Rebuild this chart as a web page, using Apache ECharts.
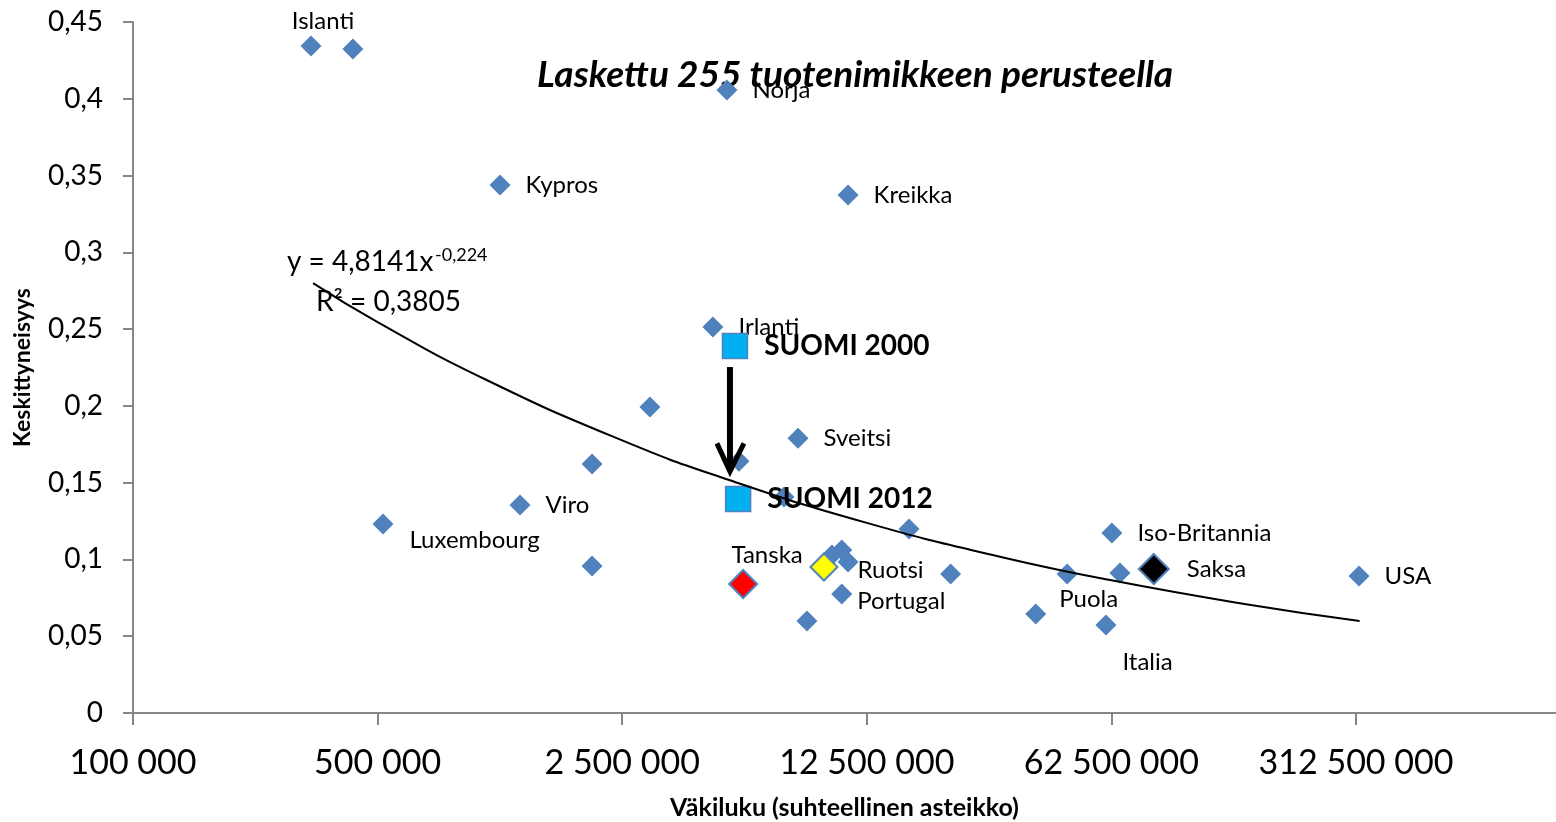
<!DOCTYPE html>
<html>
<head>
<meta charset="utf-8">
<title>Keskittyneisyys ja väkiluku</title>
<script src="https://cdn.jsdelivr.net/npm/echarts@6/dist/echarts.min.js"></script>
<style>
  html, body { margin: 0; padding: 0; background: #fff; }
  #chart { width: 1556px; height: 822px; }
</style>
</head>
<body>
<div id="chart"></div>
<script>
// maat ('' = nimeämätön piste), väkiluku ja keskittyneisyys
const countryNames = [
  'Islanti', '', 'Norja', 'Kypros', 'Kreikka', 'Irlanti', '', 'Sveitsi', '', '',
  'Viro', 'Luxembourg', '', '', 'Iso-Britannia', '', 'Tanska', '', '', '',
  'Ruotsi', 'Portugal', '', '', 'Puola', '', 'Italia', '', 'Saksa', 'USA'
]
const population = [
  322600, 425000, 4980000, 1119000, 11050000, 4540000, 3000000, 7950000, 2050000, 5390000,
  1276000, 518000, 7250000, 16500000, 62700000, 2050000, 5540000, 9940000, 10600000, 11050000,
  9430000, 10600000, 8430000, 21700000, 38000000, 46700000, 60300000, 66100000, 82600000, 318800000
]
const concentration = [
  0.4344, 0.4324, 0.4057, 0.3438, 0.3373, 0.2514, 0.1993, 0.179, 0.1622, 0.164,
  0.1354, 0.1231, 0.1407, 0.1198, 0.1172, 0.0957, 0.084, 0.1029, 0.1061, 0.0983,
  0.0951, 0.0775, 0.0599, 0.0905, 0.0645, 0.0905, 0.0573, 0.0912, 0.0938, 0.0892
]

const suomiNames = ['SUOMI 2000', 'SUOMI 2012']
const suomiPopulation = [5250000, 5360000]
const suomiConcentration = [0.239, 0.1394]

// potenssitrendi y = 4,8141x^-0,224, arvot luettu kuvasta
const trendPopulation = [327000, 500000, 1000000, 2500000, 5000000, 12500000, 30000000, 62500000, 150000000, 320000000]
const trendValue = [0.280, 0.2546, 0.218, 0.1775, 0.1521, 0.1238, 0.1018, 0.0864, 0.071, 0.0599]

// nuoli SUOMI 2000 -> SUOMI 2012
const arrowPopulation = 5080000
const arrowFrom = 0.2253
const arrowTo = 0.158

const xTickLabels = ['100 000', '500 000', '2 500 000', '12 500 000', '62 500 000', '312 500 000']
const yTickLabels = ['0', '0,05', '0,1', '0,15', '0,2', '0,25', '0,3', '0,35', '0,4', '0,45']

const FONT = 'Lato, "Open Sans", sans-serif'
const BLUE = '#4F81BD'
const AXIS_GRAY = '#868686'

// suhteellinen asteikko: 1 yksikkö = kertoimella 5
const toAxis = (p) => Math.log(p / 100000) / Math.log(5)

const markerStyles = {
  Tanska: { color: '#FF0000', size: 28 },
  Ruotsi: { color: '#FFFF00', size: 27 },
  Saksa: { color: '#000000', size: 30 }
}

const labelPlacement = {
  Islanti: { position: 'top', distance: 2, offset: [12, 0] },
  Luxembourg: { distance: 16, offset: [0, 16] },
  Tanska: { position: 'top', distance: 2, offset: [24, 0] },
  Ruotsi: { distance: 19, offset: [0, 3] },
  Portugal: { distance: 5, offset: [0, 7] },
  Saksa: { distance: 17 },
  Puola: { distance: 13, offset: [0, -15] },
  Italia: { distance: 6, offset: [0, 37] }
}

const countryData = countryNames.map((name, i) => {
  const special = markerStyles[name]
  const place = labelPlacement[name] || {}
  return {
    name: name,
    value: [toAxis(population[i]), concentration[i]],
    symbolSize: special ? special.size : 21,
    itemStyle: special
      ? { color: special.color, borderColor: BLUE, borderWidth: 2, opacity: 1 }
      : { color: BLUE, opacity: 1 },
    label: {
      show: name !== '',
      formatter: name,
      position: place.position || 'right',
      distance: place.distance !== undefined ? place.distance : 15,
      offset: place.offset || [0, 0]
    }
  }
})

const suomiData = suomiNames.map((name, i) => ({
  name: name,
  value: [toAxis(suomiPopulation[i]), suomiConcentration[i]]
}))

const trendData = trendPopulation.map((p, i) => [toAxis(p), trendValue[i]])

const chart = echarts.init(document.getElementById('chart'))

const option = {
  backgroundColor: '#fff',
  animation: false,
  textStyle: { fontFamily: FONT },
  grid: { left: 133, right: 0, top: 22, bottom: 109, outerBoundsMode: 'none' },
  xAxis: {
    type: 'value',
    min: 0,
    max: (1556 - 133) / 244.6,
    interval: 1,
    splitLine: { show: false },
    axisLine: { lineStyle: { color: AXIS_GRAY, width: 2 } },
    axisTick: { length: 12, lineStyle: { color: AXIS_GRAY, width: 2 } },
    axisLabel: {
      fontSize: 34,
      color: '#000',
      margin: 33,
      showMaxLabel: false,
      formatter: (v) => {
        const k = Math.round(v)
        return Math.abs(v - k) < 1e-6 ? (xTickLabels[k] || '') : ''
      }
    },
    name: 'Väkiluku (suhteellinen asteikko)',
    nameLocation: 'middle',
    nameGap: 82,
    nameTextStyle: { fontSize: 25, fontWeight: 'bold', color: '#000' }
  },
  yAxis: {
    type: 'value',
    min: 0,
    max: 0.45,
    interval: 0.05,
    splitLine: { show: false },
    axisLine: { show: true, lineStyle: { color: AXIS_GRAY, width: 2 } },
    axisTick: { show: true, length: 10, lineStyle: { color: AXIS_GRAY, width: 2 } },
    axisLabel: {
      fontSize: 28,
      color: '#000',
      margin: 30,
      formatter: (v) => yTickLabels[Math.round(v / 0.05)] || ''
    },
    name: 'Keskittyneisyys',
    nameLocation: 'middle',
    nameGap: 99,
    nameTextStyle: { fontSize: 23, fontWeight: 'bold', color: '#000' }
  },
  series: [
    {
      name: 'Maat',
      type: 'scatter',
      symbol: 'diamond',
      z: 2,
      data: countryData,
      label: { fontSize: 24, color: '#000' }
    },
    {
      name: 'Suomi',
      type: 'scatter',
      symbol: 'rect',
      symbolSize: 25,
      z: 3,
      data: suomiData,
      itemStyle: { color: '#00B0F0', borderColor: BLUE, borderWidth: 1.5, opacity: 1 },
      label: {
        show: true,
        formatter: '{b}',
        position: 'right',
        distance: 16,
        fontSize: 28,
        fontWeight: 'bold',
        color: '#000'
      }
    },
    {
      name: 'Trendi',
      type: 'line',
      z: 4,
      smooth: true,
      showSymbol: false,
      data: trendData,
      lineStyle: { color: '#000', width: 2 }
    }
  ]
}

chart.setOption(option)

// nuoli piirretään akselin omilla koordinaateilla
const arrowStart = chart.convertToPixel({ gridIndex: 0 }, [toAxis(arrowPopulation), arrowFrom])
const arrowTip = chart.convertToPixel({ gridIndex: 0 }, [toAxis(arrowPopulation), arrowTo])

chart.setOption({
  graphic: [
    {
      id: 'title',
      type: 'text',
      left: 537,
      top: 57,
      style: {
        text: 'Laskettu 255 tuotenimikkeen perusteella',
        font: 'italic bold 37px ' + FONT,
        fill: '#000'
      }
    },
    {
      id: 'eq',
      type: 'text',
      x: 287,
      y: 262,
      style: { text: 'y = 4,8141x', font: '28px ' + FONT, fill: '#000', verticalAlign: 'middle' }
    },
    {
      id: 'eqExp',
      type: 'text',
      x: 435,
      y: 255,
      style: { text: '-0,224', font: '18px ' + FONT, fill: '#000', verticalAlign: 'middle' }
    },
    {
      id: 'r2',
      type: 'text',
      x: 316,
      y: 302,
      style: { text: 'R² = 0,3805', font: '28px ' + FONT, fill: '#000', verticalAlign: 'middle' }
    },
    {
      id: 'arrowShaft',
      type: 'line',
      z: 10,
      shape: { x1: arrowStart[0], y1: arrowStart[1], x2: arrowTip[0], y2: arrowTip[1] },
      style: { stroke: '#000', lineWidth: 6 }
    },
    {
      id: 'arrowHead',
      type: 'polyline',
      z: 10,
      shape: {
        points: [
          [arrowTip[0] - 13, arrowTip[1] - 27],
          [arrowTip[0], arrowTip[1] + 1],
          [arrowTip[0] + 14, arrowTip[1] - 27]
        ]
      },
      style: { stroke: '#000', lineWidth: 5, fill: null, lineJoin: 'miter' }
    }
  ]
})
</script>
</body>
</html>
